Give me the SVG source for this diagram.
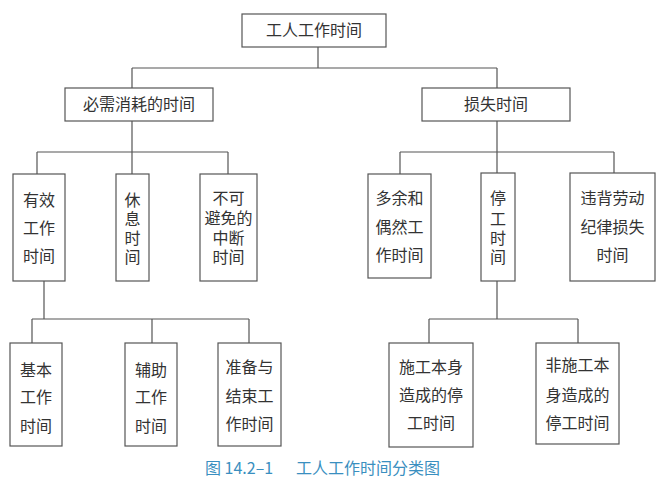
<svg xmlns="http://www.w3.org/2000/svg" width="667" height="487" viewBox="0 0 667 487">
<style>
.b{fill:#fff;stroke:#555;stroke-width:1.2}
.t{font-family:"Noto Sans CJK SC","Noto Sans",sans-serif;font-size:16px;fill:#333;text-anchor:middle}
.c{fill:none;stroke:#555;stroke-width:1.2}
.cap{font-family:"Noto Sans CJK SC","Noto Sans",sans-serif;font-size:16px;fill:#3a8fc0}
</style>
<rect width="667" height="487" fill="#fff"/>
<g id="connectors">
<path class="c" d="M318 47V68M132 68H497M132 68V88M497 68V88"/>
<path class="c" d="M132 121V152M37 152H228M37 152V174M132 152V174M228 152V174"/>
<path class="c" d="M497 121V152M400 152H614M400 152V174M497 152V173M614 152V173"/>
<path class="c" d="M44 281V319M32 319H249M32 319V343M152 319V343M249 319V343"/>
<path class="c" d="M497 281V319M429 319H578M429 319V343M578 319V343"/>
</g>
<g id="n-root"><rect class="b" x="242" y="14" width="144" height="33"/><text class="t" x="314" y="36">工人工作时间</text></g>
<g id="n-necessary"><rect class="b" x="65" y="88" width="148" height="33"/><text class="t" x="139" y="110">必需消耗的时间</text></g>
<g id="n-loss"><rect class="b" x="422" y="88" width="148" height="33"/><text class="t" x="496" y="110">损失时间</text></g>
<g id="n-effective"><rect class="b" x="13" y="174" width="52" height="107"/><text class="t"><tspan x="39" y="206">有效</tspan><tspan x="39" y="234">工作</tspan><tspan x="39" y="262">时间</tspan></text></g>
<g id="n-rest"><rect class="b" x="116" y="174" width="33" height="107"/><text class="t"><tspan x="132.5" y="206">休</tspan><tspan x="132.5" y="225">息</tspan><tspan x="132.5" y="244">时</tspan><tspan x="132.5" y="263">间</tspan></text></g>
<g id="n-interrupt"><rect class="b" x="200" y="174" width="57" height="107"/><text class="t"><tspan x="228.5" y="204">不可</tspan><tspan x="228.5" y="224">避免的</tspan><tspan x="228.5" y="244">中断</tspan><tspan x="228.5" y="263">时间</tspan></text></g>
<g id="n-extra"><rect class="b" x="368" y="174" width="63" height="104"/><text class="t"><tspan x="399.5" y="204">多余和</tspan><tspan x="399.5" y="233">偶然工</tspan><tspan x="399.5" y="261">作时间</tspan></text></g>
<g id="n-stop"><rect class="b" x="481" y="173" width="34" height="108"/><text class="t"><tspan x="498" y="204">停</tspan><tspan x="498" y="225">工</tspan><tspan x="498" y="244">时</tspan><tspan x="498" y="263">间</tspan></text></g>
<g id="n-discipline"><rect class="b" x="570" y="173" width="85" height="108"/><text class="t"><tspan x="612.5" y="204">违背劳动</tspan><tspan x="612.5" y="233">纪律损失</tspan><tspan x="612.5" y="261">时间</tspan></text></g>
<g id="n-basic"><rect class="b" x="10" y="343" width="52" height="103"/><text class="t"><tspan x="36" y="376">基本</tspan><tspan x="36" y="403">工作</tspan><tspan x="36" y="432">时间</tspan></text></g>
<g id="n-aux"><rect class="b" x="125" y="343" width="52" height="103"/><text class="t"><tspan x="151" y="376">辅助</tspan><tspan x="151" y="403">工作</tspan><tspan x="151" y="432">时间</tspan></text></g>
<g id="n-prep"><rect class="b" x="218" y="343" width="63" height="103"/><text class="t"><tspan x="249.5" y="373">准备与</tspan><tspan x="249.5" y="402">结束工</tspan><tspan x="249.5" y="430">作时间</tspan></text></g>
<g id="n-self"><rect class="b" x="389" y="343" width="84" height="104"/><text class="t"><tspan x="431" y="373">施工本身</tspan><tspan x="431" y="401">造成的停</tspan><tspan x="431" y="429">工时间</tspan></text></g>
<g id="n-nonself"><rect class="b" x="536" y="343" width="83" height="101"/><text class="t"><tspan x="577.5" y="371">非施工本</tspan><tspan x="577.5" y="401">身造成的</tspan><tspan x="577.5" y="429">停工时间</tspan></text></g>
<text class="cap" x="205" y="474">图 14.2–1</text>
<text class="cap" x="296" y="474">工人工作时间分类图</text>
</svg>
